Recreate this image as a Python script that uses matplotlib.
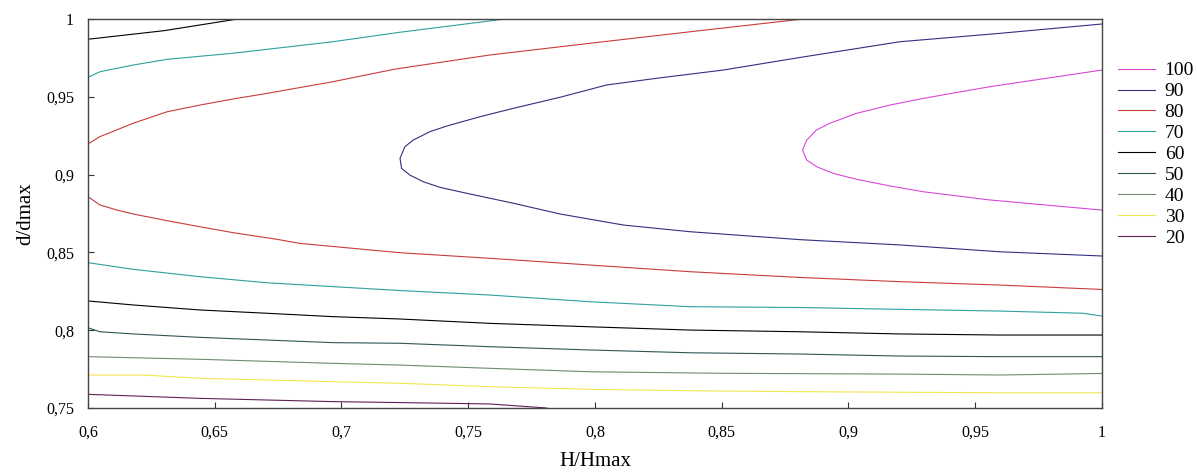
import matplotlib
matplotlib.use("Agg")
import matplotlib.pyplot as plt

plt.rcParams['font.family'] = ['Liberation Serif', 'DejaVu Serif']

# contour levels: (H/Hmax, d/dmax) points per line
levels = [100, 90, 80, 70, 60, 50, 40, 30, 20]
colors = ['#d848d8', '#303080', '#c83c3c', '#30a0a0', '#000000',
          '#2f5555', '#6f8a6f', '#f2e650', '#602058']

x100 = [1.0, 0.9558, 0.9295, 0.9164, 0.9032, 0.8927, 0.8874, 0.8835, 0.8819,
        0.8835, 0.8874, 0.8940, 0.9032, 0.9164, 0.9295, 0.9558, 1.0]
y100 = [0.9672, 0.9565, 0.9490, 0.9447, 0.9394, 0.9330, 0.9287, 0.9222, 0.9158,
        0.9094, 0.9051, 0.9008, 0.8970, 0.8927, 0.8890, 0.8837, 0.8772]

x90 = [1.0, 0.9598, 0.9203, 0.8809, 0.8506, 0.8243, 0.8046, 0.7862, 0.7678, 0.7546, 0.7415,
       0.7349, 0.7283, 0.7250, 0.7231, 0.7237, 0.7270, 0.7323, 0.7389, 0.7494, 0.7678, 0.7862,
       0.8112, 0.8375, 0.8809, 0.9203, 0.9598, 1.0]
y90 = [0.9968, 0.9908, 0.9854, 0.9753, 0.9672, 0.9619, 0.9576, 0.9497, 0.9426, 0.9372, 0.9312,
       0.9276, 0.9222, 0.9179, 0.9105, 0.9040, 0.8997, 0.8954, 0.8918, 0.8880, 0.8816, 0.8747,
       0.8676, 0.8633, 0.8582, 0.8548, 0.8504, 0.8477]

x80a = [0.6, 0.6047, 0.6113, 0.6178, 0.6312, 0.6442, 0.6572, 0.6706, 0.6966, 0.7211, 0.7586,
        0.7980, 0.8375, 0.882]
y80a = [0.9197, 0.9244, 0.9287, 0.9330, 0.9404, 0.9447, 0.9486, 0.9522, 0.9597, 0.9678, 0.9769,
        0.9844, 0.9918, 1.0]
x80b = [0.6, 0.6047, 0.6113, 0.6178, 0.6312, 0.6442, 0.6572, 0.6746, 0.6836, 0.7231, 0.7586,
        0.7980, 0.8375, 0.8809, 0.9203, 0.9598, 1.0]
y80b = [0.8858, 0.8805, 0.8773, 0.8747, 0.8704, 0.8665, 0.8627, 0.8584, 0.8558, 0.8498, 0.8462,
        0.8419, 0.8376, 0.8339, 0.8312, 0.8290, 0.8262]

x70a = [0.6, 0.6047, 0.6178, 0.6312, 0.6572, 0.6966, 0.7231, 0.7645]
y70a = [0.9625, 0.9661, 0.9704, 0.9741, 0.9780, 0.9854, 0.9915, 1.0]
x70b = [0.6, 0.6180, 0.6442, 0.6705, 0.6968, 0.7231, 0.7586, 0.7980, 0.8375, 0.8809, 0.9203,
        0.9598, 0.9925, 1.0]
y70b = [0.8434, 0.8391, 0.8344, 0.8305, 0.8280, 0.8255, 0.8226, 0.8183, 0.8151, 0.8146, 0.8134,
        0.8123, 0.8109, 0.8091]

x60a = [0.6, 0.63, 0.659]
y60a = [0.9870, 0.9925, 1.0]
x60b = [0.6, 0.6180, 0.6442, 0.6705, 0.6968, 0.7231, 0.7586, 0.7980, 0.8375, 0.8809, 0.9203,
        0.9598, 1.0]
y60b = [0.8188, 0.8162, 0.8130, 0.8109, 0.8087, 0.8072, 0.8044, 0.8022, 0.8001, 0.7990, 0.7976,
        0.7969, 0.7969]

x50 = [0.6, 0.6047, 0.6180, 0.6442, 0.6705, 0.6968, 0.7231, 0.7586, 0.7980, 0.8375, 0.8809,
       0.9203, 0.9598, 1.0]
y50 = [0.8016, 0.7990, 0.7976, 0.7954, 0.7937, 0.7920, 0.7916, 0.7894, 0.7873, 0.7855, 0.7847,
       0.7834, 0.7830, 0.7830]

x40 = [0.6, 0.6442, 0.6968, 0.7231, 0.7586, 0.7980, 0.8505, 0.9203, 0.9598, 1.0]
y40 = [0.7830, 0.7813, 0.7787, 0.7776, 0.7755, 0.7733, 0.7723, 0.7718, 0.7712, 0.7722]

x30 = [0.6, 0.6218, 0.6442, 0.6968, 0.7231, 0.7586, 0.7980, 0.8375, 0.8809, 0.9598, 1.0]
y30 = [0.7712, 0.7712, 0.7691, 0.7669, 0.7659, 0.7637, 0.7620, 0.7611, 0.7605, 0.7598, 0.7598]

x20 = [0.6, 0.6442, 0.6968, 0.7231, 0.7586, 0.7810]
y20 = [0.7588, 0.7562, 0.7541, 0.7535, 0.7526, 0.75]

lines = {
    100: [(x100, y100)],
    90: [(x90, y90)],
    80: [(x80a, y80a), (x80b, y80b)],
    70: [(x70a, y70a), (x70b, y70b)],
    60: [(x60a, y60a), (x60b, y60b)],
    50: [(x50, y50)],
    40: [(x40, y40)],
    30: [(x30, y30)],
    20: [(x20, y20)],
}

xticks = [0.6, 0.65, 0.7, 0.75, 0.8, 0.85, 0.9, 0.95, 1.0]
yticks = [0.75, 0.8, 0.85, 0.9, 0.95, 1.0]

fig = plt.figure(figsize=(11.97, 4.73), dpi=100)
ax = fig.add_axes([0.0735, 0.1374, 0.8471, 0.8224])

for lev, col in zip(levels, colors):
    for i, (xs, ys) in enumerate(lines[lev]):
        ax.plot(xs, ys, color=col, lw=0.8, label=str(lev) if i == 0 else None)

ax.set_xlim(0.6, 1.0)
ax.set_ylim(0.75, 1.0)
ax.set_xticks(xticks)
ax.set_yticks(yticks)
ax.set_xticklabels([('%g' % t).replace('.', ',') for t in xticks])
ax.set_yticklabels([('%g' % t).replace('.', ',') for t in yticks])
ax.tick_params(direction='in', length=4, width=0.8, labelsize=11.5, color='#333333')
ax.tick_params(axis='x', pad=12)
ax.tick_params(axis='y', pad=10)
for s in ax.spines.values():
    s.set_color('#444444')
    s.set_linewidth(1.0)

ax.set_xlabel('H/Hmax', fontsize=15, labelpad=8)
ax.set_ylabel('d/dmax', fontsize=15, labelpad=8)

ax.legend(loc='upper left', bbox_to_anchor=(1.0158, 0.89), frameon=False,
          fontsize=14, labelspacing=0.17, handlelength=1.9, handletextpad=0.5,
          borderaxespad=0, borderpad=0)

fig.savefig('out.png', dpi=100)
